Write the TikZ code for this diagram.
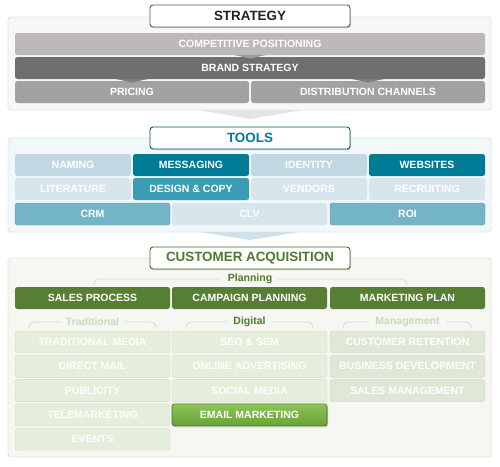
\documentclass[tikz,border=0pt]{standalone}
\usepackage{fontspec}
\setmainfont{Liberation Sans}
\usetikzlibrary{shadows}
\definecolor{stPanel}{HTML}{F7F7F7}
\definecolor{stEdge}{HTML}{E4E4E4}
\definecolor{stComp}{HTML}{BDB9B8}
\definecolor{stBrand}{HTML}{6F6F6F}
\definecolor{stPrice}{HTML}{A2A2A2}
\definecolor{stText}{HTML}{222222}
\definecolor{tlPanel}{HTML}{F2F7F9}
\definecolor{tlEdge}{HTML}{DAE7EC}
\definecolor{tlDark}{HTML}{007B96}
\definecolor{tlMid}{HTML}{3A9DB5}
\definecolor{tlSoft}{HTML}{74B4C7}
\definecolor{tlLight}{HTML}{C1D8E2}
\definecolor{tlPale}{HTML}{D7E6EC}
\definecolor{tlArrow}{HTML}{CFE1E8}
\definecolor{caPanel}{HTML}{F6F7F2}
\definecolor{caEdge}{HTML}{E2E5DA}
\definecolor{caDark}{HTML}{567F34}
\definecolor{caText}{HTML}{4E7A2C}
\definecolor{caPale}{HTML}{E4EEDA}
\definecolor{caPaleB}{HTML}{DFE7D6}
\definecolor{caMute}{HTML}{CDD6C4}
\definecolor{caLine}{HTML}{D6DACE}
\definecolor{caBright}{HTML}{8CC455}
\definecolor{caBrightDk}{HTML}{69A337}

\begin{document}
\begin{tikzpicture}[
      x=1pt, y=-1pt,
      tile/.style={rounded corners=2.5pt, minimum height=22pt, inner sep=0pt,
                  text=white, font=\bfseries\fontsize{10.5}{12}\selectfont},
      full/.style={tile, minimum width=470pt},
      half/.style={tile, minimum width=234pt},
      third/.style={tile, minimum width=155pt},
      quarter/.style={tile, minimum width=116pt},
      pale/.style={third, fill=caPale, draw=caPale!92!black, line width=0.4pt},
      panel/.style={rounded corners=3pt, line width=0.8pt},
      heading/.style={rounded corners=3pt, fill=white, line width=0.9pt,
                  minimum width=200pt, minimum height=22pt, inner sep=0pt,
                  font=\bfseries\fontsize{13.4}{15}\selectfont,
                  drop shadow={shadow xshift=1pt, shadow yshift=-1.2pt, opacity=0.35}},
      grouplabel/.style={font=\bfseries\fontsize{10.5}{12}\selectfont, inner sep=1pt,
                  inner xsep=6pt, fill=caPanel},
      bracketline/.style={draw=caLine, line width=0.8pt, rounded corners=5pt},
    ]
    \useasboundingbox (0,0) rectangle (500,466);

    % ---------- strategy ----------
    \draw[panel, fill=stPanel, draw=stEdge] (8,17) rectangle (491,110);
    \fill[stEdge] (198,110) -- (303,110) -- (250.5,119) -- cycle;

    \node[full, fill=stComp]   (comp)  at (250,44) {COMPETITIVE POSITIONING};
    \node[full, fill=stBrand]  (brand) at (250,68) {BRAND STRATEGY};
    \node[half, fill=stPrice]  (price) at (132,92) {PRICING};
    \node[half, fill=stPrice]  (dist)  at (368,92) {DISTRIBUTION CHANNELS};

    \fill[stComp!60!stBrand] (234,55) -- (266,55) -- (250,58.5) -- cycle;
    \fill[stBrand!70!stPrice] (116,79) -- (148,79) -- (132,82.5) -- cycle;
    \fill[stBrand!70!stPrice] (352,79) -- (384,79) -- (368,82.5) -- cycle;

    \node[heading, draw=stText!75, text=stText] (strategy) at (250,16) {STRATEGY};

    % ---------- tools ----------
    \draw[panel, fill=tlPanel, draw=tlEdge] (8,138) rectangle (491,232);
    \fill[tlArrow] (200,232) -- (300,232) -- (250,240) -- cycle;

    \node[quarter, fill=tlLight] (naming)   at (73,165)  {NAMING};
    \node[quarter, fill=tlDark]  (msg)      at (191,165) {MESSAGING};
    \node[quarter, fill=tlLight] (identity) at (309,165) {IDENTITY};
    \node[quarter, fill=tlDark]  (web)      at (427,165) {WEBSITES};

    \node[quarter, fill=tlPale]  (lit)      at (73,189)  {LITERATURE};
    \node[quarter, fill=tlMid]   (design)   at (191,189) {DESIGN \& COPY};
    \node[quarter, fill=tlPale]  (vendors)  at (309,189) {VENDORS};
    \node[quarter, fill=tlPale]  (recruit)  at (427,189) {RECRUITING};

    \node[third, fill=tlSoft, draw=tlSoft!85!black, line width=0.4pt] (crm) at (92.5,214)  {CRM};
    \node[third, fill=tlPale]                                         (clv) at (249.5,214) {CLV};
    \node[third, fill=tlSoft, draw=tlSoft!85!black, line width=0.4pt] (roi) at (407.5,214) {ROI};

    \node[heading, draw=tlDark!70!black, text=tlDark] (tools) at (250,138) {TOOLS};

    % ---------- customer acquisition ----------
    \draw[panel, fill=caPanel, draw=caEdge] (8,258) rectangle (491,457);

    \draw[bracketline] (94,285) -- (94,279) -- (407,279) -- (407,285);
    \node[grouplabel, text=caText] (planning) at (250,279) {Planning};

    \node[third, fill=caDark] (sales)    at (92.5,298)  {SALES PROCESS};
    \node[third, fill=caDark] (campaign) at (249.5,298) {CAMPAIGN PLANNING};
    \node[third, fill=caDark] (mplan)    at (407.5,298) {MARKETING PLAN};

    \draw[bracketline] (29,328) -- (29,322) -- (156,322) -- (156,328);
    \draw[bracketline] (186,328) -- (186,322) -- (313,322) -- (313,328);
    \draw[bracketline] (343,328) -- (343,322) -- (471,322) -- (471,328);
    \node[grouplabel, text=caMute] (trad)    at (92.5,322)  {Traditional};
    \node[grouplabel, text=caText] (digital) at (249.5,322) {Digital};
    \node[grouplabel, text=caMute] (manage)  at (407.5,322) {Management};

    \node[pale] (tradmedia) at (92.5,342)   {TRADITIONAL MEDIA};
    \node[pale] (direct)    at (92.5,366.3) {DIRECT MAIL};
    \node[pale] (publicity) at (92.5,390.6) {PUBLICITY};
    \node[pale] (tele)      at (92.5,414.9) {TELEMARKETING};
    \node[pale] (events)    at (92.5,439.2) {EVENTS};

    \node[pale] (seo)       at (249.5,342)   {SEO \& SEM};
    \node[pale] (online)    at (249.5,366.3) {ONLINE ADVERTISING};
    \node[pale] (social)    at (249.5,390.6) {SOCIAL MEDIA};
    \node[third, top color=caBright, bottom color=caBrightDk,
          draw=caDark!85!black, line width=0.6pt,
          drop shadow={shadow xshift=1pt, shadow yshift=-1.5pt, opacity=0.4}]
          (email) at (249.5,414.9) {EMAIL MARKETING};

    \node[pale, fill=caPaleB] (retention) at (407.5,342)   {CUSTOMER RETENTION};
    \node[pale, fill=caPaleB] (bizdev)    at (407.5,366.3) {BUSINESS DEVELOPMENT};
    \node[pale, fill=caPaleB] (salesmgmt) at (407.5,390.6) {SALES MANAGEMENT};

    \node[heading, draw=caDark!80!black, text=caText] (acq) at (250,258) {CUSTOMER ACQUISITION};

  \end{tikzpicture}
\end{document}
